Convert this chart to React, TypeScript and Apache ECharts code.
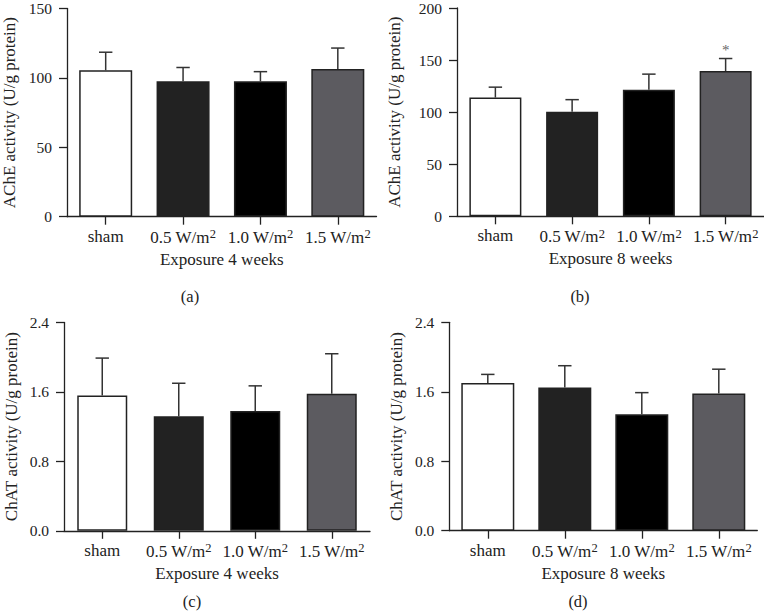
import React, { useEffect, useRef } from "react";
import * as echarts from "echarts";

const categories = ["sham", "0.5 W/m2", "1.0 W/m2", "1.5 W/m2"];
const barColors = ["#ffffff", "#222222", "#000000", "#5c5b60"];

// Panel (a): AChE, 4 weeks
const acheWeek4Mean = [105.5, 97.5, 97.5, 106.5];
const acheWeek4Sem = [13, 10, 7, 15];
// Panel (b): AChE, 8 weeks
const acheWeek8Mean = [114, 100.5, 121.5, 139.5];
const acheWeek8Sem = [10, 11.5, 15, 12];
const acheWeek8Sig = ["", "", "", "*"];
// Panel (c): ChAT, 4 weeks
const chatWeek4Mean = [1.56, 1.32, 1.38, 1.58];
const chatWeek4Sem = [0.43, 0.38, 0.29, 0.46];
// Panel (d): ChAT, 8 weeks
const chatWeek8Mean = [1.7, 1.65, 1.34, 1.58];
const chatWeek8Sem = [0.1, 0.25, 0.25, 0.28];

const FONT = "'Liberation Serif', 'Times New Roman', serif";
const INK = "#222222";

type Panel = {
  mean: number[];
  sem: number[];
  sig?: string[];
  yName: string;
  xName: string;
  max: number;
  interval: number;
  decimals: number;
  grid: { left: number; top: number; width: number; height: number };
  barWidth: number;
  nameGap: number;
  tag: string;
  tagX: number;
  tagY: number;
};

const panels: Panel[] = [
  {
    mean: acheWeek4Mean, sem: acheWeek4Sem,
    yName: "AChE activity (U/g protein)", xName: "Exposure 4 weeks",
    max: 150, interval: 50, decimals: 0,
    grid: { left: 66.5, top: 8.5, width: 310, height: 208.2 },
    barWidth: 53, nameGap: 49, tag: "(a)", tagX: 190, tagY: 296,
  },
  {
    mean: acheWeek8Mean, sem: acheWeek8Sem, sig: acheWeek8Sig,
    yName: "AChE activity (U/g protein)", xName: "Exposure 8 weeks",
    max: 200, interval: 50, decimals: 0,
    grid: { left: 457, top: 6.7, width: 307, height: 209.6 },
    barWidth: 52, nameGap: 54, tag: "(b)", tagX: 580, tagY: 296,
  },
  {
    mean: chatWeek4Mean, sem: chatWeek4Sem,
    yName: "ChAT activity (U/g protein)", xName: "Exposure 4 weeks",
    max: 2.4, interval: 0.8, decimals: 1,
    grid: { left: 64, top: 322.5, width: 306, height: 208.3 },
    barWidth: 50, nameGap: 44, tag: "(c)", tagX: 192, tagY: 601,
  },
  {
    mean: chatWeek8Mean, sem: chatWeek8Sem,
    yName: "ChAT activity (U/g protein)", xName: "Exposure 8 weeks",
    max: 2.4, interval: 0.8, decimals: 1,
    grid: { left: 449.3, top: 322.3, width: 308, height: 208.4 },
    barWidth: 53, nameGap: 44, tag: "(d)", tagX: 578, tagY: 601,
  },
];

function labelFormatter(v: string) {
  const m = v.match(/^(.*m)2$/);
  if (m) return `{n|${m[1]}}{sup|2}`;
  return `{n|${v}}`;
}

export default function App() {
  const ref = useRef<HTMLDivElement>(null);
  useEffect(() => {
    if (!ref.current) return;
    const chart = echarts.init(ref.current, undefined, { renderer: "svg" });

    const grid: any[] = [];
    const xAxis: any[] = [];
    const yAxis: any[] = [];
    const series: any[] = [];
    const graphic: any[] = [];

    panels.forEach((p, i) => {
      grid.push({ ...p.grid, containLabel: false });
      xAxis.push({
        type: "category",
        gridIndex: i,
        data: categories,
        name: p.xName,
        nameLocation: "middle",
        nameGap: 34,
        nameTextStyle: { fontFamily: FONT, fontSize: 17, color: INK },
        axisLine: { lineStyle: { color: INK, width: 1.3 } },
        axisTick: { show: true, alignWithLabel: true, length: 8, lineStyle: { color: INK, width: 1.3 } },
        axisLabel: {
          interval: 0,
          margin: 11,
          formatter: labelFormatter,
          rich: {
            n: { fontFamily: FONT, fontSize: 17, color: INK },
            sup: { fontFamily: FONT, fontSize: 12.5, color: INK, verticalAlign: "top", padding: [0, 0, 6, 0] },
          },
        },
        splitLine: { show: false },
      });
      yAxis.push({
        type: "value",
        gridIndex: i,
        min: 0,
        max: p.max,
        interval: p.interval,
        name: p.yName,
        nameLocation: "middle",
        nameGap: p.nameGap,
        nameRotate: 90,
        nameTextStyle: { fontFamily: FONT, fontSize: 17, color: INK },
        axisLine: { show: true, lineStyle: { color: INK, width: 1.3 } },
        axisTick: { show: true, length: 8, lineStyle: { color: INK, width: 1.3 } },
        axisLabel: {
          margin: 15,
          fontFamily: FONT,
          fontSize: 15.5,
          color: INK,
          formatter: (v: number) => v.toFixed(p.decimals),
        },
        splitLine: { show: false },
      });
      series.push({
        type: "bar",
        xAxisIndex: i,
        yAxisIndex: i,
        barWidth: p.barWidth,
        data: p.mean.map((v, j) => ({
          value: v,
          itemStyle: { color: barColors[j], borderColor: INK, borderWidth: 1.5 },
        })),
        z: 2,
      });
      const sig = p.sig || [];
      series.push({
        type: "custom",
        xAxisIndex: i,
        yAxisIndex: i,
        z: 3,
        data: p.mean.map((v, j) => [j, v, p.sem[j]]),
        renderItem: (params: any, api: any) => {
          const idx = api.value(0);
          const mean = api.value(1);
          const err = api.value(2);
          const p0 = api.coord([idx, mean]);
          const p1 = api.coord([idx, mean + err]);
          const children: any[] = [
            {
              type: "line",
              shape: { x1: p0[0], y1: p0[1], x2: p1[0], y2: p1[1] },
              style: { stroke: "#333333", lineWidth: 1.5 },
            },
            {
              type: "line",
              shape: { x1: p1[0] - 6.7, y1: p1[1], x2: p1[0] + 6.7, y2: p1[1] },
              style: { stroke: "#333333", lineWidth: 1.5 },
            },
          ];
          const s = sig[params.dataIndex];
          if (s) {
            children.push({
              type: "text",
              style: {
                text: s,
                x: p1[0],
                y: p1[1] - 9,
                align: "center",
                verticalAlign: "middle",
                fontFamily: FONT,
                fontSize: 15,
                fill: "#666666",
              },
            });
          }
          return { type: "group", children };
        },
      });
      graphic.push({
        type: "text",
        x: p.tagX,
        y: p.tagY,
        style: {
          text: p.tag,
          align: "center",
          verticalAlign: "middle",
          fontFamily: FONT,
          fontSize: 16.5,
          fill: INK,
        },
      });
    });

    chart.setOption({
      animation: false,
      backgroundColor: "#ffffff",
      grid,
      xAxis,
      yAxis,
      series,
      graphic,
    });
    return () => chart.dispose();
  }, []);

  return (
    <div
      ref={ref}
      style={{ position: "fixed", left: 0, top: 0, width: 764, height: 614 }}
    />
  );
}
